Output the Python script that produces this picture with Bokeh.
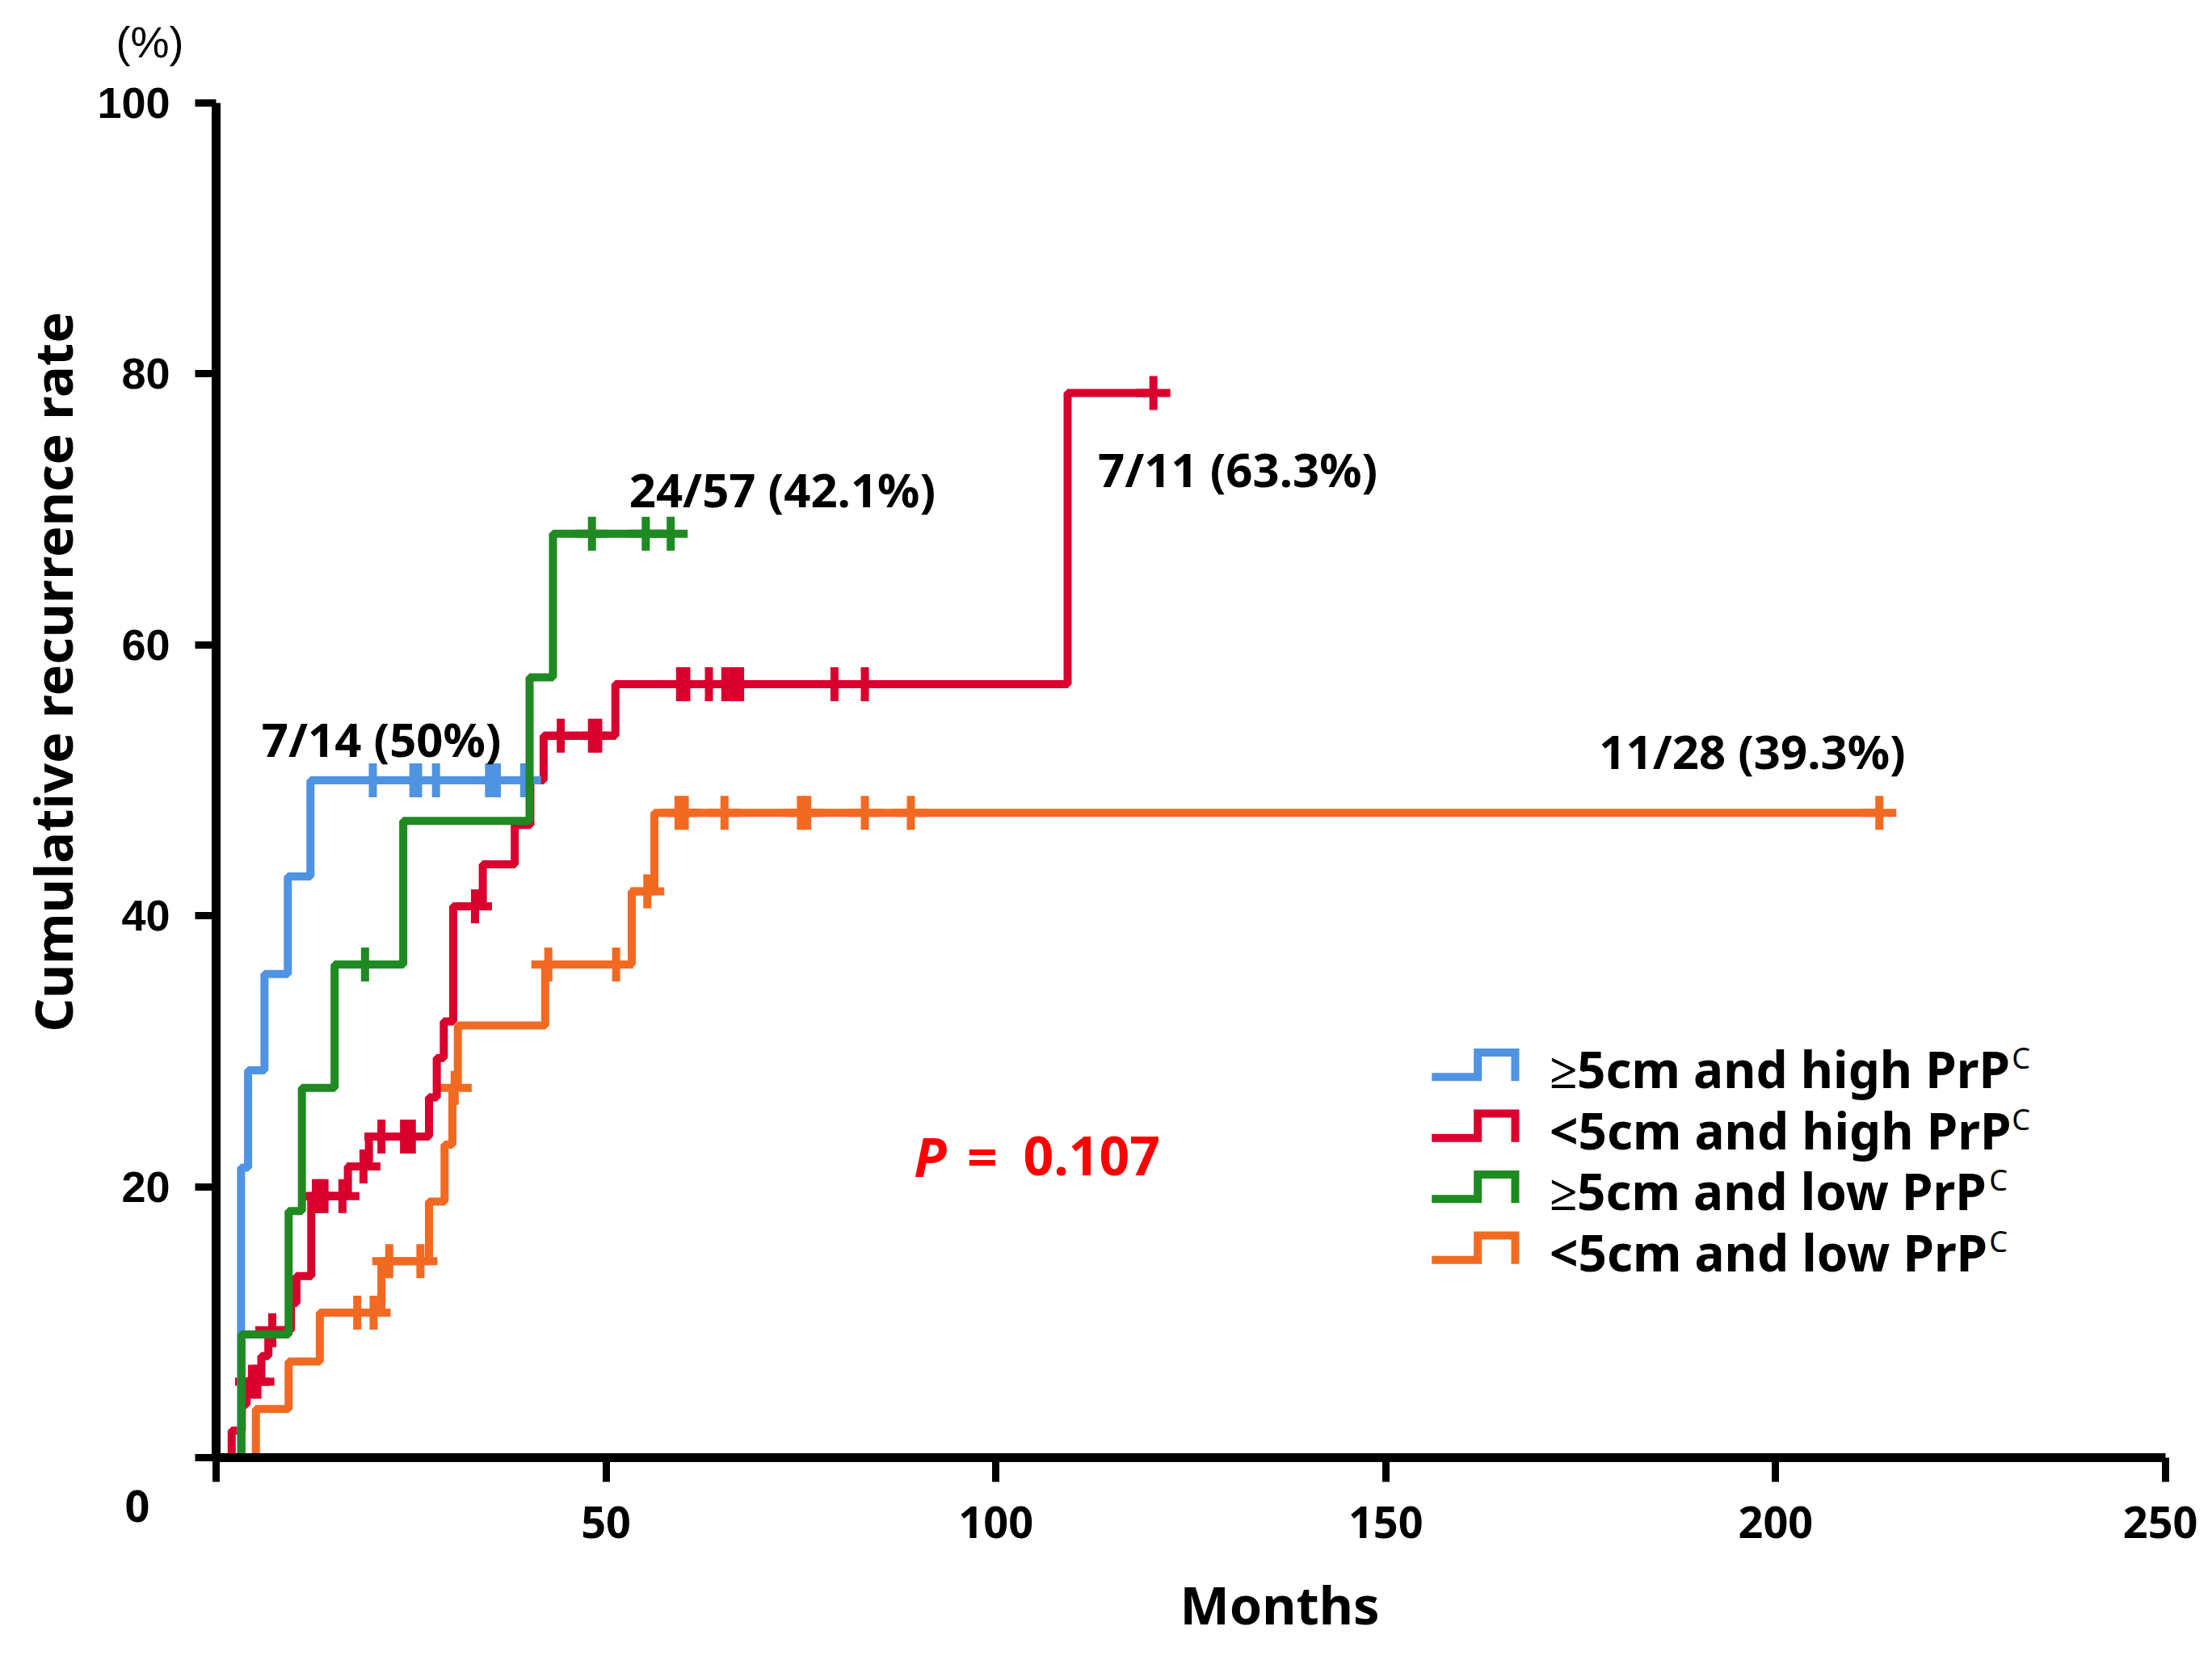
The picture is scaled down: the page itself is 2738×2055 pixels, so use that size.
from bokeh.plotting import figure
from bokeh.models import Label, Range1d, FixedTicker
from bokeh.embed import file_html
from bokeh.resources import INLINE

# ---------------- data (months, cumulative recurrence %) ----------------
blue_t = [0, 3.2, 4.1, 6.2, 9.2, 12.1, 39.5]
blue_y = [0, 21.4, 28.6, 35.7, 42.9, 50.0, 50.0]
blue_ct = [20.1, 25.3, 25.9, 28.2, 35.0, 36.0, 39.5]
blue_cy = [50.0, 50.0, 50.0, 50.0, 50.0, 50.0, 50.0]

red_t = [0, 2.0, 3.3, 3.9, 5.8, 6.7, 9.6, 10.3, 12.2, 16.9, 19.6, 27.3, 28.3, 29.2,
         30.4, 34.2, 38.3, 40.3, 42.0, 51.2, 109.2, 120.2]
red_y = [0, 2.0, 3.9, 5.6, 7.5, 9.4, 11.4, 13.4, 19.3, 21.5, 23.7, 26.6, 29.5, 32.2,
         40.7, 43.8, 46.7, 50.0, 53.3, 57.1, 78.6, 78.6]
red_ct = [4.6, 5.3, 7.2, 12.8, 13.3, 13.9, 16.2, 18.9, 21.2, 24.1, 25.1, 33.2, 44.2,
          48.2, 49.0, 59.5, 60.3, 63.2, 65.3, 66.3, 67.2, 79.3, 83.2, 120.2]
red_cy = [5.6, 5.6, 9.4, 19.3, 19.3, 19.3, 19.3, 21.5, 23.7, 23.7, 23.7, 40.7, 53.3,
          53.3, 53.3, 57.1, 57.1, 57.1, 57.1, 57.1, 57.1, 57.1, 57.1, 78.6]

green_t = [0, 3.25, 9.3, 11.0, 15.2, 24.0, 40.2, 43.2, 58.3]
green_y = [0, 9.1, 18.2, 27.3, 36.4, 47.0, 57.6, 68.2, 68.2]
green_ct = [19.1, 48.2, 55.1, 58.3]
green_cy = [36.4, 68.2, 68.2, 68.2]

orange_t = [0, 5.1, 9.3, 13.3, 21.2, 27.3, 29.3, 30.3, 31.0, 42.2, 53.3, 56.2, 213.3]
orange_y = [0, 3.6, 7.1, 10.7, 14.5, 18.9, 23.1, 27.3, 31.9, 36.4, 41.8, 47.6, 47.6]
orange_ct = [18.1, 20.2, 22.2, 26.2, 30.6, 42.6, 51.3, 55.3, 59.3, 60.1, 65.2, 75.0,
             75.8, 83.2, 89.1, 213.3]
orange_cy = [10.7, 10.7, 14.5, 14.5, 27.3, 36.4, 36.4, 41.8, 47.6, 47.6, 47.6, 47.6,
             47.6, 47.6, 47.6, 47.6]

x_ticks = [0, 50, 100, 150, 200, 250]
y_ticks = [0, 20, 40, 60, 80, 100]

legend_labels = ["\u22655cm and high PrP", "<5cm and high PrP",
                 "\u22655cm and low PrP", "<5cm and low PrP"]
annotations = ["7/14 (50%)", "24/57  (42.1%)", "7/11  (63.3%)", "11/28 (39.3%)"]
annot_x = [21.2, 73.4, 131.8, 197.0]
annot_y = [53.1, 71.5, 73.0, 52.2]

BLUE = "#4f93e3"
RED = "#d9002e"
GREEN = "#1f8a22"
ORANGE = "#f26a22"
TXT = "Noto Sans"

# ---------------- layout: frame fills the page, axes placed at 0 ----------------
W, H = 2720, 2040
AX_LEFT, AX_TOP = 267, 127          # pixel position of (0, 100)
AX_W, AX_H = 2413, 1677             # pixel size of the 0..250 x 0..100 box
sx = AX_W / 250.0
sy = AX_H / 100.0
x0 = -AX_LEFT / sx
x1 = (W - AX_LEFT) / sx
y1 = 100 + AX_TOP / sy
y0 = -(H - AX_TOP - AX_H) / sy

p = figure(width=W, height=H, x_range=Range1d(x0, x1), y_range=Range1d(y0, y1),
           output_backend="svg", toolbar_location=None,
           min_border=0, min_border_left=0, min_border_right=0,
           min_border_top=0, min_border_bottom=0)
p.outline_line_color = None
p.xgrid.grid_line_color = None
p.ygrid.grid_line_color = None
p.background_fill_color = "white"

for ax, ticks, bnds, tout, stand, font in (
        (p.xaxis[0], x_ticks, (0, 250), 30, 30, TXT),
        (p.yaxis[0], y_ticks, (0, 100), 26, 31, "Liberation Sans")):
    ax.fixed_location = 0
    ax.bounds = bnds
    ax.ticker = FixedTicker(ticks=ticks)
    ax.major_label_overrides = {0: ""}
    ax.axis_line_width = 11
    ax.axis_line_color = "black"
    ax.major_tick_line_width = 9
    ax.major_tick_line_color = "black"
    ax.major_tick_out = tout
    ax.major_tick_in = 0
    ax.minor_tick_line_color = None
    ax.major_label_standoff = stand
    ax.major_label_text_font = font
    ax.major_label_text_font_size = "54px"
    ax.major_label_text_font_style = "bold"
    ax.major_label_text_color = "black"

# curves (drawing order: orange, red, blue, green)
series = [(orange_t, orange_y, orange_ct, orange_cy, ORANGE),
          (red_t, red_y, red_ct, red_cy, RED),
          (blue_t, blue_y, blue_ct, blue_cy, BLUE),
          (green_t, green_y, green_ct, green_cy, GREEN)]
for t, y, ct, cy, col in series:
    p.step(t, y, mode="after", line_width=10, line_color=col)
    p.scatter(ct, cy, marker="cross", size=42, line_width=10, line_color=col)

# legend (custom step icons)
leg_colors = [BLUE, RED, GREEN, ORANGE]
leg_y = [28.7, 24.2, 19.7, 15.2]
ix0, ixm, ix1 = 155.9, 161.8, 166.6
xs, ys = [], []
for yc in leg_y:
    xs.append([ix0, ixm, ixm, ix1, ix1])
    ys.append([yc - 0.6, yc - 0.6, yc + 1.2, yc + 1.2, yc - 0.9])
p.multi_line(xs, ys, line_color=leg_colors, line_width=10, line_join="miter")
sup_x = [230.3, 230.3, 227.4, 227.4]
for lab, yc, sxp in zip(legend_labels, leg_y, sup_x):
    p.add_layout(Label(x=171.0, y=yc, text=lab, text_font=TXT, text_font_size="62px",
                       text_font_style="bold", text_color="black",
                       text_align="left", text_baseline="middle"))
    p.add_layout(Label(x=sxp, y=yc + 0.8, text="C", text_font=TXT, text_font_size="36px",
                       text_font_style="normal", text_color="black",
                       text_align="left", text_baseline="middle"))

# count annotations
for txt, ax_, ay_ in zip(annotations, annot_x, annot_y):
    p.add_layout(Label(x=ax_, y=ay_, text=txt, text_font=TXT, text_font_size="58px",
                       text_font_style="bold", text_color="black",
                       text_align="center", text_baseline="middle"))

# P value
p.add_layout(Label(x=89.5, y=22.3, text="P", text_font=TXT, text_font_size="66px",
                   text_font_style="bold italic", text_color="#ff0000",
                   text_align="left", text_baseline="middle"))
p.add_layout(Label(x=96.3, y=22.3, text="=", text_font=TXT, text_font_size="66px",
                   text_font_style="bold", text_color="#ff0000",
                   text_align="left", text_baseline="middle"))
p.add_layout(Label(x=103.5, y=22.3, text="0.107", text_font=TXT, text_font_size="66px",
                   text_font_style="bold", text_color="#ff0000",
                   text_align="left", text_baseline="middle"))

# axis titles and extra labels
p.add_layout(Label(x=-21.0, y=58.0, text="Cumulative recurrence rate", text_font=TXT,
                   text_font_size="65px", text_font_style="bold", angle=1.5708,
                   text_color="black", text_align="center", text_baseline="middle"))
p.add_layout(Label(x=136.4, y=-10.8, text="Months", text_font=TXT,
                   text_font_size="65px", text_font_style="bold", text_color="black",
                   text_align="center", text_baseline="middle"))
p.add_layout(Label(x=-8.5, y=104.5, text="(%)", text_font="Liberation Sans",
                   text_font_size="54px", text_font_style="normal", text_color="black",
                   text_align="center", text_baseline="middle"))
p.add_layout(Label(x=-10.1, y=-3.6, text="0", text_font=TXT,
                   text_font_size="54px", text_font_style="bold", text_color="black",
                   text_align="center", text_baseline="middle"))

open("out.html", "w").write(file_html(p, INLINE))
